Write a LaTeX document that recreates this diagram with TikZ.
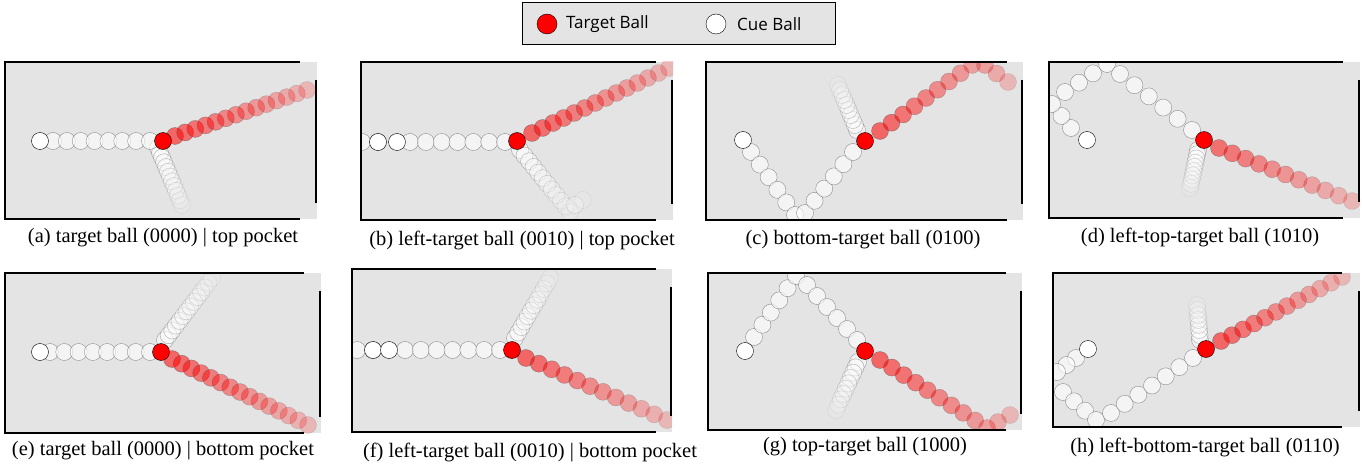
\documentclass[tikz,border=0pt]{standalone}
\usepackage{fontspec}
\setmainfont{Liberation Serif}
\newfontfamily\legfont{Open Sans}
\definecolor{tablegray}{RGB}{228,228,228}
\tikzset{
  capt/.style={font=\fontsize{20.5}{22}\selectfont, inner sep=0pt},
  legtxt/.style={font=\legfont\fontsize{17}{19}\selectfont, anchor=west, inner sep=0pt},
}
\newcommand\btrail[8]{%
  \foreach \i in {1,...,#5}{%
    \pgfmathsetmacro\bt{(\i-1)/max(#5-1,1)}%
    \pgfmathsetmacro\op{#7+(#8-#7)*\bt}%
    \pgfmathsetmacro\bx{#1+(#3-#1)*\bt}%
    \pgfmathsetmacro\by{#2+(#4-#2)*\bt}%
    \path[draw=black!70, fill=#6, fill opacity=\op, draw opacity=\op] (\bx,\by) circle (8.5pt);
  }}
\newcommand\cueball[2]{\path[draw=black, fill=white] (#1,#2) circle (8.5pt);}
\newcommand\tgtball[2]{\path[draw=black, fill=red] (#1,#2) circle (8.5pt);}
\newcommand\panelbg[6]{%
  \fill[tablegray] (#1,#2) rectangle (#5,#4);
}
\newcommand\panelfg[5]{%
  \draw[line width=1.4pt] (#3,#2) -- (#1,#2) -- (#1,#4) -- (#3,#4);
  \draw[line width=1.4pt] (#5-1,#2+18) -- (#5-1,#4-16);
}
\begin{document}
\begin{tikzpicture}[x=1pt,y=-1pt]
\useasboundingbox (0,0) rectangle (1362,465);
% legend
\draw[fill=tablegray, line width=1pt] (522,3) rectangle (835,45);
\path[draw=black, fill=red] (547,24) circle (10pt);
\node[legtxt] (lt) at (566,24) {Target Ball};
\path[draw=black, fill=white] (716,24) circle (10pt);
\node[legtxt] (lc) at (737,24) {Cue Ball};

% (a)
\panelbg{5}{62}{300}{219}{317}{}
\begin{scope}\clip (5,62) rectangle (317,219);
\btrail{158}{148}{182}{205}{13}{white}{0.5}{0.1}
\btrail{53}{141}{150}{141}{8}{white}{0.6}{0.6}
\cueball{40}{141}
\btrail{175}{136}{307}{90}{14}{red}{0.55}{0.2}
\tgtball{163}{141}
\end{scope}
\panelfg{5}{62}{300}{219}{317}
\node[capt] (ca) at (163,238) {(a) target ball (0000) | top pocket};

% (b)
\panelbg{361}{62}{656}{220}{673}{}
\begin{scope}\clip (361,62) rectangle (673,220);
\btrail{520}{150}{570}{212}{12}{white}{0.5}{0.1}
\btrail{575}{205}{583}{200}{2}{white}{0.2}{0.1}
\btrail{362}{142}{378}{142}{2}{white}{0.6}{0.6}
\btrail{410}{142}{505}{142}{7}{white}{0.6}{0.6}
\cueball{378}{142}
\cueball{397}{142}
\btrail{532}{133}{669}{68}{14}{red}{0.55}{0.2}
\tgtball{517}{141}
\end{scope}
\panelfg{361}{62}{656}{220}{673}
\node[capt] (cb) at (522,240) {(b) left-target ball (0010) | top pocket};

% (c)
\panelbg{706}{62}{1007}{220}{1023}{}
\begin{scope}\clip (706,62) rectangle (1023,220);
\btrail{857}{130}{838}{85}{10}{white}{0.5}{0.1}
\btrail{751}{152}{795}{215}{6}{white}{0.6}{0.6}
\btrail{805}{213}{853}{152}{6}{white}{0.6}{0.6}
\cueball{743}{140}
\btrail{880}{131}{972}{65}{9}{red}{0.55}{0.3}
\btrail{985}{65}{1008}{82}{3}{red}{0.3}{0.2}
\tgtball{865}{141}
\end{scope}
\panelfg{706}{62}{1007}{220}{1023}
\node[capt] (cc) at (863,240) {(c) bottom-target ball (0100)};

% (d)
\panelbg{1049}{62}{1343}{218}{1360}{}
\begin{scope}\clip (1049,62) rectangle (1360,218);
\btrail{1198}{150}{1190}{188}{10}{white}{0.5}{0.1}
\btrail{1071}{128}{1052}{104}{3}{white}{0.6}{0.6}
\btrail{1065}{92}{1107}{64}{4}{white}{0.6}{0.6}
\btrail{1120}{74}{1192}{130}{6}{white}{0.6}{0.6}
\cueball{1087}{140}
\btrail{1219}{148}{1352}{201}{11}{red}{0.5}{0.2}
\tgtball{1204}{140}
\end{scope}
\panelfg{1049}{62}{1343}{218}{1360}
\node[capt] (cd) at (1200,237) {(d) left-top-target ball (1010)};

% (e)
\panelbg{5}{273}{304}{433}{321}{}
\begin{scope}\clip (5,273) rectangle (321,433);
\btrail{165}{340}{212}{278}{14}{white}{0.5}{0.1}
\btrail{50}{352}{150}{352}{8}{white}{0.6}{0.6}
\cueball{40}{352}
\btrail{172}{359}{308}{425}{15}{red}{0.55}{0.2}
\tgtball{161}{352}
\end{scope}
\panelfg{5}{273}{304}{433}{321}
\node[capt] (ce) at (163,451) {(e) target ball (0000) | bottom pocket};

% (f)
\panelbg{352}{269}{656}{432}{672}{}
\begin{scope}\clip (352,269) rectangle (672,432);
\btrail{515}{338}{550}{278}{12}{white}{0.5}{0.1}
\btrail{357}{350}{373}{350}{2}{white}{0.6}{0.6}
\btrail{405}{350}{500}{350}{7}{white}{0.6}{0.6}
\cueball{373}{350}
\cueball{389}{350}
\btrail{526}{358}{667}{420}{12}{red}{0.55}{0.2}
\tgtball{512}{350}
\end{scope}
\panelfg{352}{269}{656}{432}{672}
\node[capt] (cf) at (530,452) {(f) left-target ball (0010) | bottom pocket};

% (g)
\panelbg{708}{273}{1006}{430}{1022}{}
\begin{scope}\clip (708,273) rectangle (1022,430);
\btrail{858}{362}{836}{410}{10}{white}{0.5}{0.1}
\btrail{754}{337}{796}{276}{6}{white}{0.6}{0.6}
\btrail{807}{285}{857}{340}{6}{white}{0.6}{0.6}
\cueball{745}{351}
\btrail{880}{360}{987}{428}{10}{red}{0.55}{0.3}
\btrail{998}{422}{1010}{415}{2}{red}{0.25}{0.2}
\tgtball{865}{351}
\end{scope}
\panelfg{708}{273}{1006}{430}{1022}
\node[capt] (cg) at (865,447) {(g) top-target ball (1000)};

% (h)
\panelbg{1053}{273}{1342}{427}{1360}{}
\begin{scope}\clip (1053,273) rectangle (1360,427);
\btrail{1200}{340}{1197}{305}{8}{white}{0.5}{0.1}
\btrail{1076}{358}{1057}{372}{3}{white}{0.6}{0.6}
\btrail{1063}{392}{1096}{420}{4}{white}{0.6}{0.6}
\btrail{1111}{413}{1193}{358}{7}{white}{0.6}{0.6}
\cueball{1088}{349}
\btrail{1221}{341}{1342}{277}{12}{red}{0.55}{0.2}
\tgtball{1206}{349}
\end{scope}
\panelfg{1053}{273}{1342}{427}{1360}
\node[capt] (ch) at (1205,447) {(h) left-bottom-target ball (0110)};
\end{tikzpicture}
\end{document}
